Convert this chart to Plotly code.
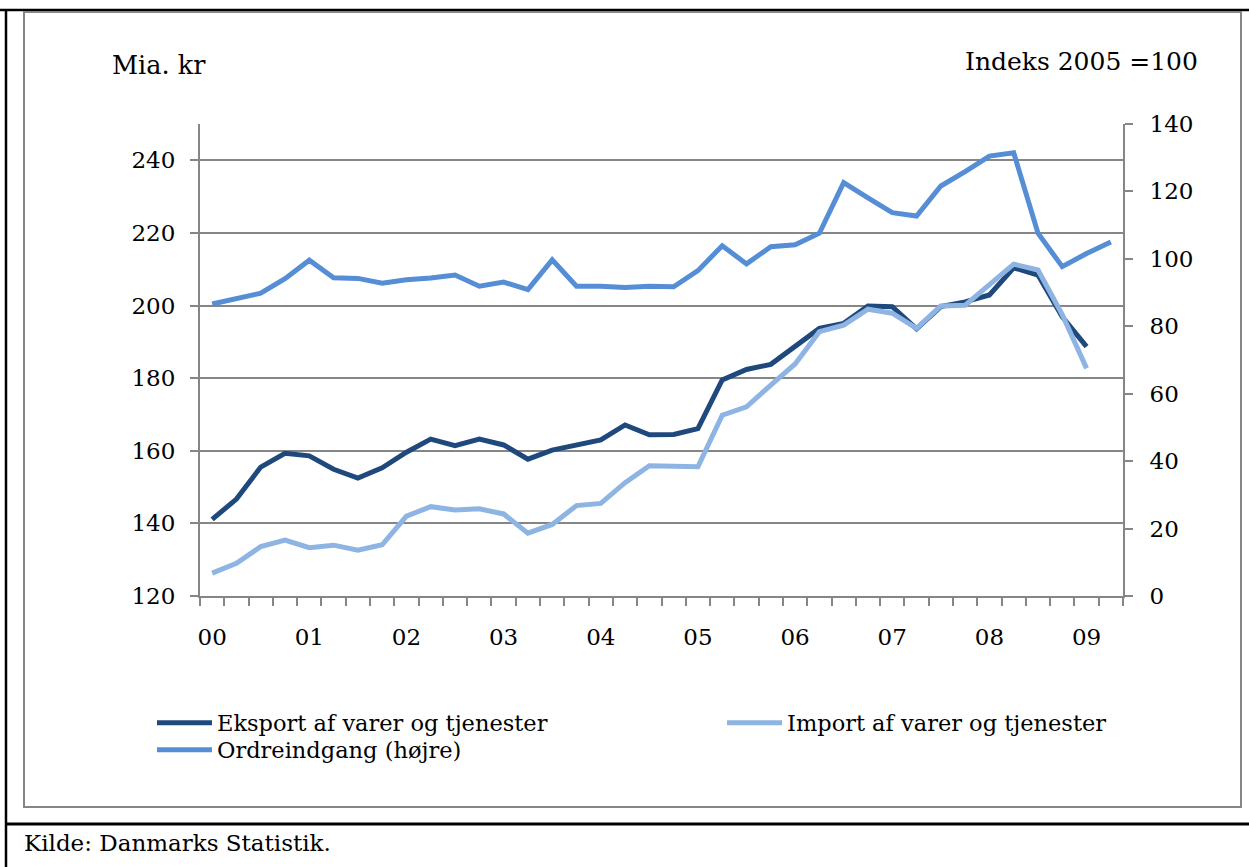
import plotly.graph_objects as go

# ---------------- data ----------------
quarters = [f"{y}K{q}" for y in range(2000, 2010) for q in range(1, 5)][:38]
tick_text = [q[2:4] if q.endswith("K1") else "" for q in quarters]

eksport = [141.1, 146.7, 155.5, 159.3, 158.6, 154.9, 152.5, 155.3, 159.6, 163.2,
           161.4, 163.2, 161.6, 157.7, 160.2, 161.6, 163.0, 167.1, 164.4, 164.5,
           166.1, 179.5, 182.4, 183.8, 188.7, 193.7, 195.1, 199.9, 199.7, 193.6,
           199.7, 201.0, 202.9, 210.4, 208.4, 196.9, 188.7]
importv = [126.3, 129.0, 133.6, 135.4, 133.3, 134.0, 132.6, 134.1, 142.0, 144.6,
           143.7, 144.0, 142.6, 137.3, 139.7, 144.9, 145.5, 151.2, 155.9, 155.6,
           155.6, 169.8, 172.1, 178.1, 183.9, 192.8, 194.6, 199.0, 197.9, 193.7,
           199.9, 200.1, 205.6, 211.4, 209.8, 197.5, 182.7]
ordre = [86.6, 88.1, 89.8, 94.1, 99.6, 94.4, 94.2, 92.8, 93.8, 94.3,
         95.2, 91.9, 93.1, 90.9, 99.7, 91.9, 91.9, 91.5, 91.9, 91.7,
         96.5, 103.9, 98.5, 103.6, 104.2, 107.6, 122.6, 118.1, 113.7, 112.7,
         121.6, 125.9, 130.5, 131.5, 107.6, 97.7, 101.6, 105.0]

names = ["Eksport af varer og tjenester", "Import af varer og tjenester", "Ordreindgang (højre)"]
colors = ["#1F497D", "#8DB4E2", "#558ED5"]

left_ticks = [120, 140, 160, 180, 200, 220, 240]
right_ticks = [0, 20, 40, 60, 80, 100, 120, 140]

# ---------------- layout geometry ----------------
W, H = 1249, 867
L, R, T, B = 200, 126, 124, 271
PW, PH = W - L - R, H - T - B
FONT = "DejaVu Serif"
GREY = "#868686"


def px(x):
    return (x - L) / PW


def py(y):
    return (H - B - y) / PH


fig = go.Figure()
fig.add_trace(go.Scatter(x=quarters[:len(eksport)], y=eksport, name=names[0], mode="lines",
                         line=dict(color=colors[0], width=5), legend="legend"))
fig.add_trace(go.Scatter(x=quarters[:len(importv)], y=importv, name=names[1], mode="lines",
                         line=dict(color=colors[1], width=5), legend="legend2"))
fig.add_trace(go.Scatter(x=quarters, y=ordre, name=names[2], mode="lines", yaxis="y2",
                         line=dict(color=colors[2], width=5), legend="legend3"))

axfont = dict(family=FONT, size=23, color="black")
legfont = dict(family=FONT, size=22.5, color="black")

leg_common = dict(orientation="v", xanchor="left", yanchor="middle", font=legfont,
                  bgcolor="rgba(0,0,0,0)", itemwidth=55, tracegroupgap=0)

fig.update_layout(
    width=W, height=H,
    margin=dict(l=L, r=R, t=T, b=B),
    paper_bgcolor="white", plot_bgcolor="white",
    showlegend=True,
    legend=dict(x=px(152), y=py(723), **leg_common),
    legend2=dict(x=px(722), y=py(723), **leg_common),
    legend3=dict(x=px(152), y=py(750), **leg_common),
    xaxis=dict(type="category", categoryorder="array", categoryarray=quarters,
               range=[-0.5, len(quarters) - 0.5],
               tickmode="array", tickvals=quarters, ticktext=tick_text,
               tickson="boundaries", ticks="outside", ticklen=8, tickwidth=1.5, tickcolor=GREY,
               showline=True, linecolor=GREY, linewidth=2, showgrid=False,
               tickfont=axfont, ticklabelstandoff=19, tickangle=0),
    yaxis=dict(range=[120, 250], tickvals=left_ticks, ticks="outside", ticklen=8,
               tickwidth=1.5, tickcolor=GREY, showline=True, linecolor=GREY, linewidth=2,
               showgrid=True, gridcolor=GREY, gridwidth=1.5, zeroline=False,
               tickfont=axfont, ticklabelstandoff=10),
    yaxis2=dict(range=[0, 140], tickvals=right_ticks, overlaying="y", side="right",
                ticks="outside", ticklen=8, tickwidth=1.5, tickcolor=GREY,
                showline=True, linecolor=GREY, linewidth=2, showgrid=False, zeroline=False,
                tickfont=axfont, ticklabelstandoff=12),
)

# axis unit labels and source
fig.add_annotation(text="Mia. kr", x=px(110), y=py(65), xref="paper", yref="paper",
                   xanchor="left", yanchor="middle", showarrow=False,
                   font=dict(family=FONT, size=25.5, color="black"))
fig.add_annotation(text="Indeks 2005 =100", x=px(1200), y=py(62), xref="paper", yref="paper",
                   xanchor="right", yanchor="middle", showarrow=False,
                   font=dict(family=FONT, size=25, color="black"))
fig.add_annotation(text="Kilde: Danmarks Statistik.", x=px(22), y=py(843), xref="paper", yref="paper",
                   xanchor="left", yanchor="middle", showarrow=False,
                   font=dict(family=FONT, size=23, color="black"))

# frame lines
fig.add_shape(type="line", xref="paper", yref="paper", x0=px(0), x1=px(W), y0=py(10), y1=py(10),
              line=dict(color="black", width=2.5))
fig.add_shape(type="line", xref="paper", yref="paper", x0=px(6), x1=px(6), y0=py(10), y1=py(H),
              line=dict(color="black", width=2.5))
fig.add_shape(type="rect", xref="paper", yref="paper", x0=px(24), x1=px(1241), y0=py(12), y1=py(807),
              line=dict(color=GREY, width=2))
fig.add_shape(type="line", xref="paper", yref="paper", x0=px(6), x1=px(W), y0=py(824), y1=py(824),
              line=dict(color="black", width=3))

fig.write_html("out.html", config={"displayModeBar": False},
               post_script="document.body.style.margin='0px';")
